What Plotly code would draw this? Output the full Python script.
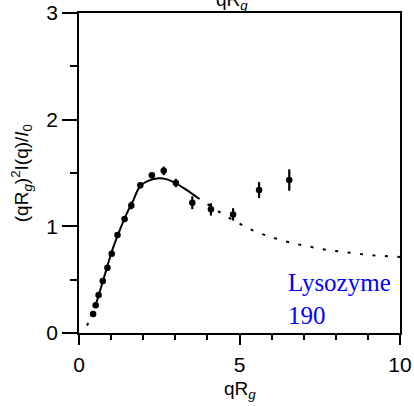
import plotly.graph_objects as go

# Data points (qRg, Kratky value, error)
data_x = [0.44, 0.52, 0.61, 0.74, 0.885, 1.02, 1.2, 1.42, 1.63, 1.91, 2.27, 2.64, 3.02, 3.53, 4.11, 4.80, 5.61, 6.55]
data_y = [0.178, 0.26, 0.356, 0.487, 0.612, 0.743, 0.918, 1.068, 1.196, 1.384, 1.478, 1.52, 1.406, 1.221, 1.159, 1.112, 1.34, 1.434]
data_err = [0.02, 0.02, 0.02, 0.02, 0.02, 0.02, 0.025, 0.025, 0.036, 0.027, 0.03, 0.04, 0.04, 0.06, 0.058, 0.058, 0.075, 0.1]

# Model curve, solid part
fit_x = [0.55, 0.75, 1.02, 1.23, 1.49, 1.65, 1.91, 2.17, 2.48, 2.74, 3.02, 3.36, 3.68]
fit_y = [0.29, 0.49, 0.762, 0.934, 1.122, 1.215, 1.378, 1.428, 1.45, 1.44, 1.403, 1.34, 1.272]

# Model curve, dotted extrapolations
low_x = [0.25, 0.55]
low_y = [0.07, 0.29]
ext_x = [3.68, 4.0, 4.5, 4.88, 5.24, 5.62, 6.0, 6.38, 6.78, 7.17, 7.55, 7.95, 8.37, 8.76, 9.15, 9.56, 10.0]
ext_y = [1.272, 1.21, 1.11, 1.045, 0.985, 0.935, 0.897, 0.862, 0.834, 0.809, 0.787, 0.771, 0.753, 0.740, 0.728, 0.720, 0.713]

x_ticks = [0, 5, 10]
y_ticks = [0, 1, 2, 3]

fig = go.Figure()
fig.add_trace(go.Scatter(x=low_x, y=low_y, mode="lines",
                         line=dict(color="black", width=2, dash="3px,9.5px"), hoverinfo="skip"))
fig.add_trace(go.Scatter(x=ext_x, y=ext_y, mode="lines",
                         line=dict(color="black", width=2, dash="3px,9.5px"), hoverinfo="skip"))
fig.add_trace(go.Scatter(x=fit_x, y=fit_y, mode="lines", line=dict(color="black", width=2, shape="spline")))
fig.add_trace(go.Scatter(x=data_x, y=data_y, mode="markers",
                         marker=dict(color="black", size=6.5),
                         error_y=dict(type="data", array=data_err, color="black", thickness=2.2, width=0)))

title_font = dict(family="Liberation Sans, Arial, sans-serif", size=19, color="black")
tick_font = dict(family="Liberation Sans, Arial, sans-serif", size=21, color="black")

fig.update_layout(
    template="none",
    width=414, height=406,
    margin=dict(l=78.5, r=14, t=12.7, b=72.7, pad=0),
    paper_bgcolor="white", plot_bgcolor="white",
    showlegend=False,
    font=title_font,
    xaxis=dict(range=[0, 10], tickvals=x_ticks, ticktext=[str(v) for v in x_ticks], automargin=False,
               ticks="outside", ticklen=10, tickwidth=1.5, tickcolor="black", ticklabelstandoff=2,
               showline=True, linecolor="black", linewidth=1.5, mirror=True,
               showgrid=False, zeroline=False, tickfont=tick_font,
               minor=dict(dtick=1, tick0=0, ticks="outside", ticklen=5, tickwidth=1.5, tickcolor="black", showgrid=False)),
    yaxis=dict(range=[0, 3], tickvals=y_ticks, ticktext=[str(v) for v in y_ticks], automargin=False,
               ticks="outside", ticklen=15, tickwidth=1.5, tickcolor="black",
               showline=True, linecolor="black", linewidth=1.5, mirror=True,
               showgrid=False, zeroline=False, tickfont=tick_font,
               minor=dict(dtick=0.5, tick0=0, ticks="outside", ticklen=7, tickwidth=1.5, tickcolor="black", showgrid=False)),
    annotations=[
        dict(text="qR<sub><i>g</i></sub>", xref="paper", yref="paper", x=0.5, y=-0.178,
             xanchor="center", yanchor="middle", showarrow=False, font=title_font),
        dict(text="(qR<sub><i>g</i></sub>)<sup>2</sup>I(q)/<i>I</i><sub>0</sub>", xref="paper", yref="paper",
             x=-0.18, y=0.5, xanchor="center", yanchor="middle", textangle=-90, showarrow=False, font=title_font),
        dict(text="qR<sub><i>g</i></sub>", xref="x", yref="paper", x=4.77, y=1.038,
             xanchor="center", yanchor="middle", showarrow=False, font=title_font),
        dict(text="Lysozyme<br>190", xref="x", yref="y", x=6.45, y=0.32, xanchor="left", yanchor="middle",
             align="left", showarrow=False,
             font=dict(family="Liberation Serif, Times New Roman, serif", size=25, color="#0000ff")),
    ],
)

fig.write_html("out.html", config={"displayModeBar": False},
               post_script="document.body.style.margin='0';document.body.style.padding='0';"
                           "document.documentElement.style.overflow='hidden';")
